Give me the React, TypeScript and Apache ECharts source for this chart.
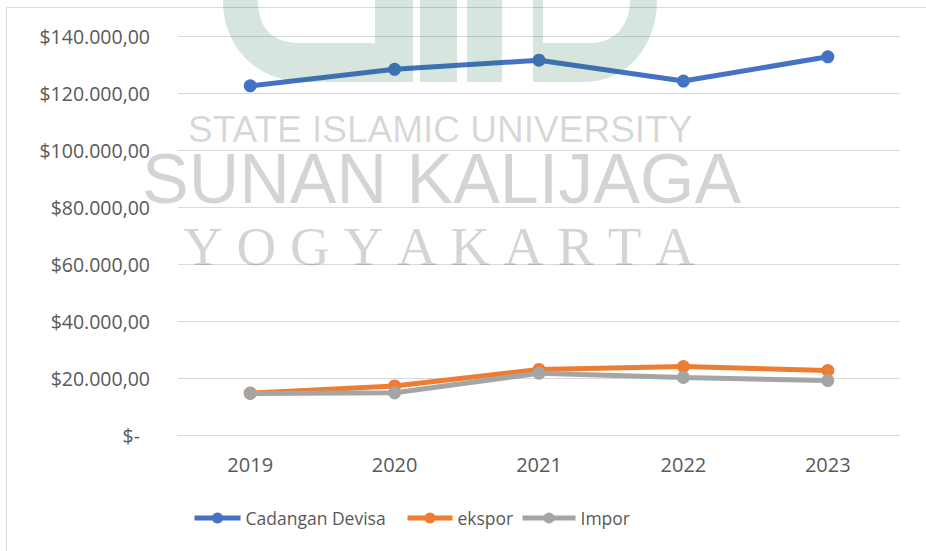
import React, { useEffect, useRef } from "react";
import * as echarts from "echarts";

const categories = ["2019", "2020", "2021", "2022", "2023"];
const cadanganDevisa = [122500, 128300, 131500, 124200, 132700];
const ekspor = [14700, 17200, 23000, 24000, 22600];
const impor = [14600, 14800, 21700, 20200, 19100];
const seriesNames = ["Cadangan Devisa", "ekspor", "Impor"];
const colors = ["#4472C4", "#ED7D31", "#A5A5A5"];
const watermarkLines = ["STATE ISLAMIC UNIVERSITY", "SUNAN KALIJAGA", "YOGYAKARTA"];

const C_PATH =
  "M223,0 L258,0 C258,28 272,43 300,43 L375,43 L375,0 L413,0 L413,82 L305,82 C258,82 223,48 223,0 Z";
const D_PATH =
  "M533,0 L543,0 L543,43 L590,43 C615,43 630,25 630,0 L657,0 C657,48 625,82 585,82 L533,82 Z";

let registered = false;
function registerShapes() {
  if (registered) return;
  echarts.graphic.registerShape("logoC", echarts.graphic.extendPath(C_PATH, {}) as any);
  echarts.graphic.registerShape("logoD", echarts.graphic.extendPath(D_PATH, {}) as any);
  registered = true;
}

function fmt(v: number): string {
  if (v === 0) return "{z|$-}";
  const s = Math.round(v).toString().replace(/\B(?=(\d{3})+(?!\d))/g, ".");
  return "$" + s + ",00";
}

export default function App() {
  const ref = useRef<HTMLDivElement>(null);
  useEffect(() => {
    if (!ref.current) return;
    registerShapes();
    const chart = echarts.init(ref.current, undefined, { renderer: "svg" });
    const font = "'Open Sans', sans-serif";
    const textColor = "#595959";
    const wmFill = "rgba(0,0,0,0.17)";
    const logoFill = "rgba(30,110,70,0.18)";
    const spaced = watermarkLines[2].split("").join("\u2005");
    const legendPos = [
      { left: 192, w: 46 },
      { left: 405, w: 45 },
      { left: 520, w: 53 },
    ];
    const dataSets = [cadanganDevisa, ekspor, impor];
    chart.setOption({
      animation: false,
      backgroundColor: "#ffffff",
      grid: { left: 178, right: 26, top: 36, bottom: 116, containLabel: false },
      legend: seriesNames.map((n, i) => ({
        data: [n],
        left: legendPos[i].left,
        top: 509,
        padding: 0,
        itemWidth: legendPos[i].w,
        itemHeight: 14,
        lineStyle: { width: 5 },
        textStyle: { color: textColor, fontFamily: font, fontSize: 17.5 },
      })),
      xAxis: {
        type: "category",
        data: categories,
        boundaryGap: true,
        axisLine: { show: true, lineStyle: { color: "#d9d9d9", width: 1 } },
        axisTick: { show: false },
        axisLabel: { color: textColor, fontFamily: font, fontSize: 20, margin: 19 },
      },
      yAxis: {
        type: "value",
        min: 0,
        max: 140000,
        interval: 20000,
        axisLine: { show: false },
        axisTick: { show: false },
        splitLine: { lineStyle: { color: "#d9d9d9", width: 1 } },
        axisLabel: {
          color: textColor,
          fontFamily: font,
          fontSize: 19.5,
          margin: 28,
          formatter: fmt,
          rich: { z: { color: textColor, fontFamily: font, fontSize: 19.5, padding: [0, 10, 0, 0] } },
        },
      },
      series: seriesNames.map((n, i) => ({
        name: n,
        type: "line",
        data: dataSets[i],
        symbol: "circle",
        symbolSize: 13,
        color: colors[i],
        lineStyle: { width: 5, color: colors[i] },
        itemStyle: { color: colors[i] },
        z: 2 + i,
      })),
      graphic: [
        {
          type: "rect",
          shape: { x: 6.5, y: 7.5, width: 1000, height: 1000 },
          style: { fill: "none", stroke: "#d9d9d9", lineWidth: 1 },
          silent: true,
          z: 0,
        },
        { type: "logoC", x: 0, y: 0, style: { fill: logoFill }, silent: true, z: 100 },
        { type: "rect", shape: { x: 420, y: 0, width: 37, height: 82 }, style: { fill: logoFill }, silent: true, z: 100 },
        { type: "rect", shape: { x: 467, y: 0, width: 35, height: 82 }, style: { fill: logoFill }, silent: true, z: 100 },
        { type: "logoD", x: 0, y: 0, style: { fill: logoFill }, silent: true, z: 100 },
        {
          type: "text",
          x: 188,
          y: 129,
          silent: true,
          z: 100,
          style: {
            text: watermarkLines[0],
            font: "37px 'Liberation Sans', sans-serif",
            fill: wmFill,
            textAlign: "left",
            textVerticalAlign: "middle",
          },
        },
        {
          type: "text",
          x: 142,
          y: 179,
          silent: true,
          z: 100,
          style: {
            text: watermarkLines[1],
            font: "70px 'Liberation Sans', sans-serif",
            fill: wmFill,
            textAlign: "left",
            textVerticalAlign: "middle",
          },
        },
        {
          type: "text",
          x: 183,
          y: 246,
          silent: true,
          z: 100,
          style: {
            text: spaced,
            font: "55px 'Liberation Serif', serif",
            fill: wmFill,
            textAlign: "left",
            textVerticalAlign: "middle",
          },
        },
      ],
    });
    return () => chart.dispose();
  }, []);
  return (
    <div
      ref={ref}
      style={{ position: "fixed", left: 0, top: 0, width: 926, height: 551 }}
    />
  );
}
